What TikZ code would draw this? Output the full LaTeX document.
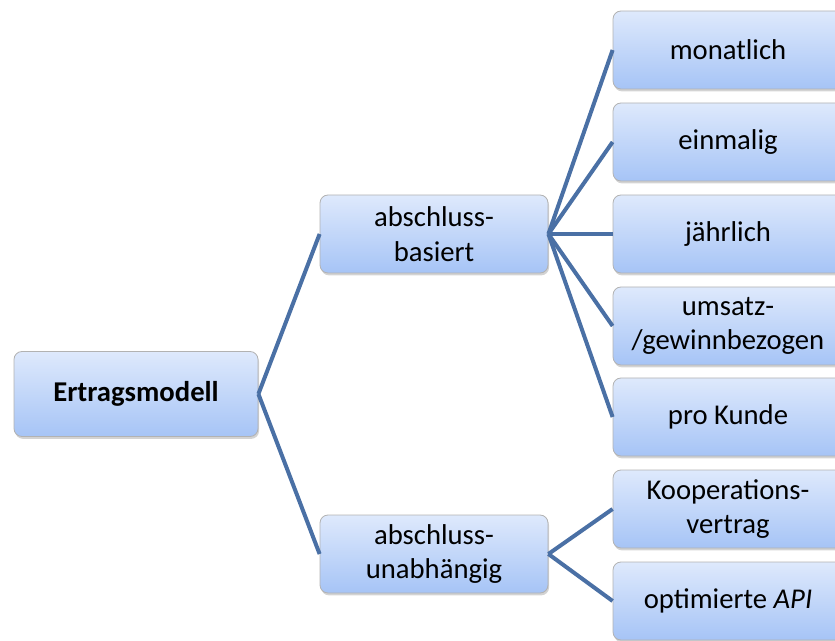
\documentclass[tikz,border=0pt]{standalone}
\usepackage{fontspec}
\setmainfont{Carlito}
\usepackage{tikz}
\usetikzlibrary{shadows}

\definecolor{linkblue}{RGB}{74,112,165}
\definecolor{boxtop}{RGB}{222,233,252}
\definecolor{boxbot}{RGB}{166,196,246}

\tikzset{
  box/.style={draw=gray!60, line width=0.6pt, rounded corners=6pt,
    top color=boxtop, bottom color=boxbot, align=center,
    minimum width=171pt, minimum height=58.5pt, inner sep=0pt,
    drop shadow={shadow xshift=0.8pt, shadow yshift=-1.8pt, opacity=0.35},
    font=\fontsize{21.5}{26}\selectfont},
  leaf/.style={box, minimum width=172.5pt},
  link/.style={linkblue, line width=3pt}
}

\begin{document}
\begin{tikzpicture}[x=0.75pt, y=-0.75pt]
\newcommand{\Midx}{434}; % centre of middle column
\newcommand{\Leafx}{728}; % centre of right column

\useasboundingbox (0,0) rectangle (835,641);

% root
\node[box, minimum width=183pt, minimum height=63.75pt] (root) at (136,394) {\textbf{Ertragsmodell}};

% middle column
\node[box] (basiert) at (\Midx,234) {abschluss-\\basiert};
\node[box] (unabh) at (\Midx,554) {abschluss-\\unabhängig};

% right column
\node[leaf] (monatlich) at (\Leafx,50)  {monatlich};
\node[leaf] (einmalig)  at (\Leafx,142) {einmalig};
\node[leaf] (jaehrlich) at (\Leafx,234) {jährlich};
\node[leaf] (umsatz)    at (\Leafx,326) {umsatz-\\/gewinnbezogen};
\node[leaf] (kunde)     at (\Leafx,417) {pro Kunde};
\node[leaf] (koop)      at (\Leafx,509) {Kooperations-\\vertrag};
\node[leaf] (api)       at (\Leafx,601) {optimierte \textit{API}};

% connectors
\draw[link] (root.east) -- (basiert.west);
\draw[link] (root.east) -- (unabh.west);

\draw[link] (basiert.east) -- (monatlich.west);
\draw[link] (basiert.east) -- (einmalig.west);
\draw[link] (basiert.east) -- (jaehrlich.west);
\draw[link] (basiert.east) -- (umsatz.west);
\draw[link] (basiert.east) -- (kunde.west);

\draw[link] (unabh.east) -- (koop.west);
\draw[link] (unabh.east) -- (api.west);
\end{tikzpicture}
\end{document}
